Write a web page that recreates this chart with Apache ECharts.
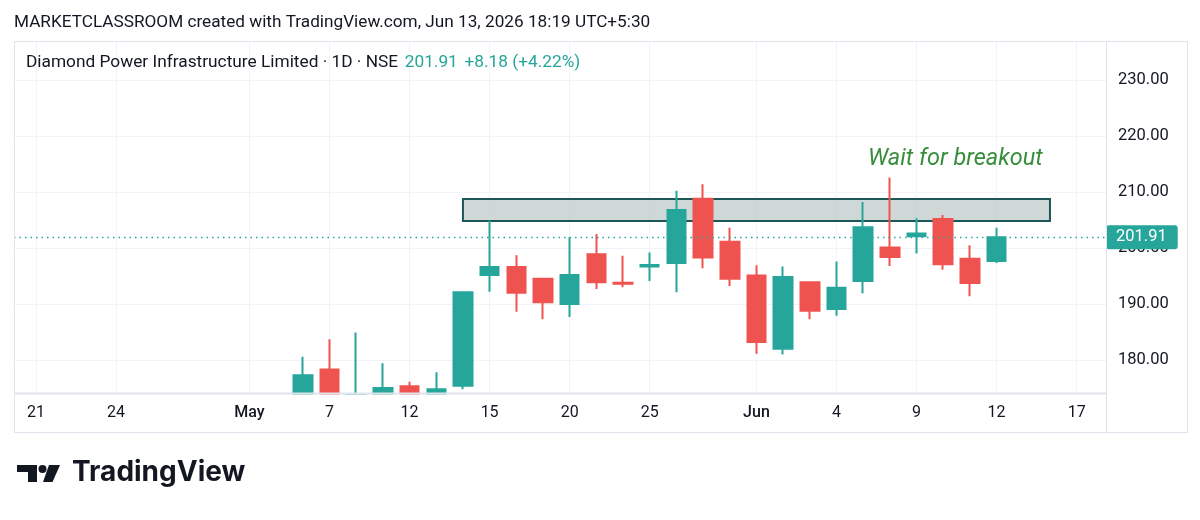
<!DOCTYPE html>
<html>
<head>
<meta charset="utf-8">
<script src="https://cdn.jsdelivr.net/npm/echarts@6/dist/echarts.min.js"></script>
<style>
html,body{margin:0;padding:0;background:#fff;}
#c{width:1200px;height:520px;}
</style>
</head>
<body>
<div id="c"></div>
<script>
// ---- data ----
const tradingDays = ['2026-04-21','2026-04-22','2026-04-23','2026-04-24','2026-04-27','2026-04-28','2026-04-29','2026-04-30',
  '2026-05-04','2026-05-05','2026-05-06','2026-05-07','2026-05-08','2026-05-11','2026-05-12','2026-05-13','2026-05-14','2026-05-15',
  '2026-05-18','2026-05-19','2026-05-20','2026-05-21','2026-05-22','2026-05-25','2026-05-26','2026-05-28','2026-05-29',
  '2026-06-01','2026-06-02','2026-06-03','2026-06-04','2026-06-05','2026-06-08','2026-06-09','2026-06-10','2026-06-11','2026-06-12',
  '2026-06-15','2026-06-16','2026-06-17'];
const candleDates = ['2026-05-06','2026-05-07','2026-05-08','2026-05-11','2026-05-12','2026-05-13','2026-05-14','2026-05-15',
  '2026-05-18','2026-05-19','2026-05-20','2026-05-21','2026-05-22','2026-05-25','2026-05-26','2026-05-28','2026-05-29',
  '2026-06-01','2026-06-02','2026-06-03','2026-06-04','2026-06-05','2026-06-08','2026-06-09','2026-06-10','2026-06-11','2026-06-12'];
const openP  = [173.2,178.3,173.0,173.6,175.3,173.7,175.4,195.2,196.6,194.5,190.0,198.9,193.8,196.7,197.3,208.8,201.1,195.1,182.0,193.9,189.1,194.1,200.1,202.1,205.2,198.1,197.7];
const closeP = [177.3,173.4,173.8,175.0,173.6,174.8,192.1,196.6,192.0,190.3,195.2,193.9,193.6,196.95,206.8,198.3,194.5,183.2,194.8,188.8,192.9,203.7,198.4,202.6,197.1,193.73,201.91];
const lowP   = [172.6,172.5,172.0,173.2,173.2,173.3,174.8,192.2,188.6,187.3,187.7,192.7,193.0,194.1,192.1,196.4,193.2,181.1,181.0,187.3,187.9,191.9,196.8,199.0,196.1,191.4,197.3];
const highP  = [180.6,183.7,184.9,179.4,176.1,177.8,192.2,204.9,198.7,194.6,201.9,202.5,198.6,199.2,210.2,211.4,203.6,196.9,196.7,194.0,197.6,208.2,212.6,205.3,205.9,200.5,203.6];
const tickDates  = ['2026-04-21','2026-04-24','2026-05-04','2026-05-07','2026-05-12','2026-05-15','2026-05-20','2026-05-25','2026-06-01','2026-06-04','2026-06-09','2026-06-12','2026-06-17'];
const tickLabels = ['21','24','May','7','12','15','20','25','Jun','4','9','12','17'];
const zoneDates  = ['2026-05-14','2026-06-16'];
const zonePrices = [208.75, 204.8];
const yRange = [174.11, 236.96];

const idx = d => tradingDays.indexOf(d);
const candles = candleDates.map((d,i)=>[idx(d), openP[i], closeP[i], lowP[i], highP[i]]);
const tickIdx = tickDates.map(idx);
const labelOf = {}; tickIdx.forEach((t,i)=>labelOf[t]=tickLabels[i]);
const last = closeP[closeP.length-1], prev = closeP[closeP.length-2];
const chg = last-prev, pct = chg/prev*100;

const UP='#26a69a', DOWN='#ef5350', GRID='#f0f3fa', FRAME='#e0e3eb', TXT='#131722';
const X_MIN=-0.825, X_MAX=40.1;
const chart = echarts.init(document.getElementById('c'));
chart.setOption({
  animation:false,
  textStyle:{fontFamily:'Roboto'},
  grid:{left:14,right:94,top:41,bottom:127},
  xAxis:[{type:'value',min:X_MIN,max:X_MAX,z:0,
    axisLine:{show:false},
    axisTick:{show:false,customValues:tickIdx},
    axisLabel:{show:false,customValues:tickIdx},
    splitLine:{show:true,lineStyle:{color:GRID,width:1}}},
   {type:'value',min:X_MIN,max:X_MAX,position:'bottom',z:20,
    axisLine:{show:false},
    axisTick:{show:false,customValues:tickIdx},
    axisLabel:{customValues:tickIdx,margin:12,fontSize:16,color:TXT,fontFamily:'Roboto',
      formatter:v=>{const s=labelOf[v];return (s==='May'||s==='Jun')?'{m|'+s+'}':s;},
      rich:{m:{fontSize:16,fontWeight:500,color:TXT,fontFamily:'Roboto'}}},
    splitLine:{show:false}}],
  yAxis:{type:'value',position:'right',min:yRange[0],max:yRange[1],
    axisLine:{show:false},axisTick:{show:false},
    axisLabel:{margin:12,fontSize:16.5,color:TXT,fontFamily:'Roboto',showMinLabel:false,showMaxLabel:false,
      formatter:v=>v.toFixed(2)},
    splitLine:{show:true,lineStyle:{color:GRID,width:1}}},
  series:[{
    type:'candlestick',
    xAxisIndex:0,
    data:candles,
    encode:{x:0,y:[1,2,3,4]},
    barWidth:19,
    z:3,
    clip:true,
    itemStyle:{color:UP,color0:DOWN,borderColor:UP,borderColor0:DOWN,borderWidth:2},
    markArea:{silent:true,z:1,
      itemStyle:{color:'rgba(190,203,201,0.75)',borderColor:'#1d5656',borderWidth:2},
      data:[[{coord:[idx(zoneDates[0]),zonePrices[0]]},{coord:[idx(zoneDates[1]),zonePrices[1]]}]]},
    markLine:{silent:true,symbol:['none','none'],animation:false,
      lineStyle:{color:UP,type:[1.5,4],width:1.3},
      label:{position:'end',distance:0,formatter:p=>p.value.toFixed(2),backgroundColor:UP,color:'#fff',
        fontSize:16.5,fontFamily:'Roboto',padding:[4,11,3,10],borderRadius:3},
      data:[{yAxis:last}]}
  }],
  graphic:[
    {type:'text',left:14,top:14,style:{text:'MARKETCLASSROOM created with TradingView.com, Jun 13, 2026 18:19 UTC+5:30',
      font:'17.2px Roboto',fill:TXT}},
    // cover for candle parts below the price range (time-scale area)
    {type:'rect',shape:{x:15,y:394.5,width:1091,height:38},style:{fill:'#fff'},z:15,silent:true},
    {type:'rect',shape:{x:14.5,y:41.5,width:1173,height:391},style:{fill:'none',stroke:FRAME,lineWidth:1},z:16,silent:true},
    {type:'line',shape:{x1:1106.5,y1:41,x2:1106.5,y2:433},style:{stroke:FRAME,lineWidth:1},z:16,silent:true},
    {type:'line',shape:{x1:14,y1:393.5,x2:1106,y2:393.5},style:{stroke:FRAME,lineWidth:2},z:16,silent:true},
    {type:'text',left:26,top:54,z:10,style:{
      text:'{a|Diamond Power Infrastructure Limited · 1D · NSE}  {b|'+last.toFixed(2)+'}  {b|'+(chg>=0?'+':'')+chg.toFixed(2)+' ('+(pct>=0?'+':'')+pct.toFixed(2)+'%)}',
      rich:{a:{fontSize:17.3,fontFamily:'Roboto',fill:TXT},b:{fontSize:17.3,fontFamily:'Roboto',fill:UP}}}},
    {type:'text',left:868,top:148,z:10,style:{text:'Wait for breakout',font:'italic 23.5px Roboto',fill:'#388e3c'}},
    // TradingView logo
    {type:'group',left:17,top:465,children:[
      {type:'rect',shape:{x:0,y:0,width:20,height:7},style:{fill:'#131722'}},
      {type:'rect',shape:{x:11,y:0,width:9,height:17},style:{fill:'#131722'}},
      {type:'circle',shape:{cx:25.5,cy:4,r:4},style:{fill:'#131722'}},
      {type:'polygon',shape:{points:[[32,0],[43,0],[35.5,17],[26,17]]},style:{fill:'#131722'}}
    ]},
    {type:'text',left:72,top:459,style:{text:'TradingView',font:'bold 28px Inter',fill:'#131722'}}
  ]
});
</script>
</body>
</html>
